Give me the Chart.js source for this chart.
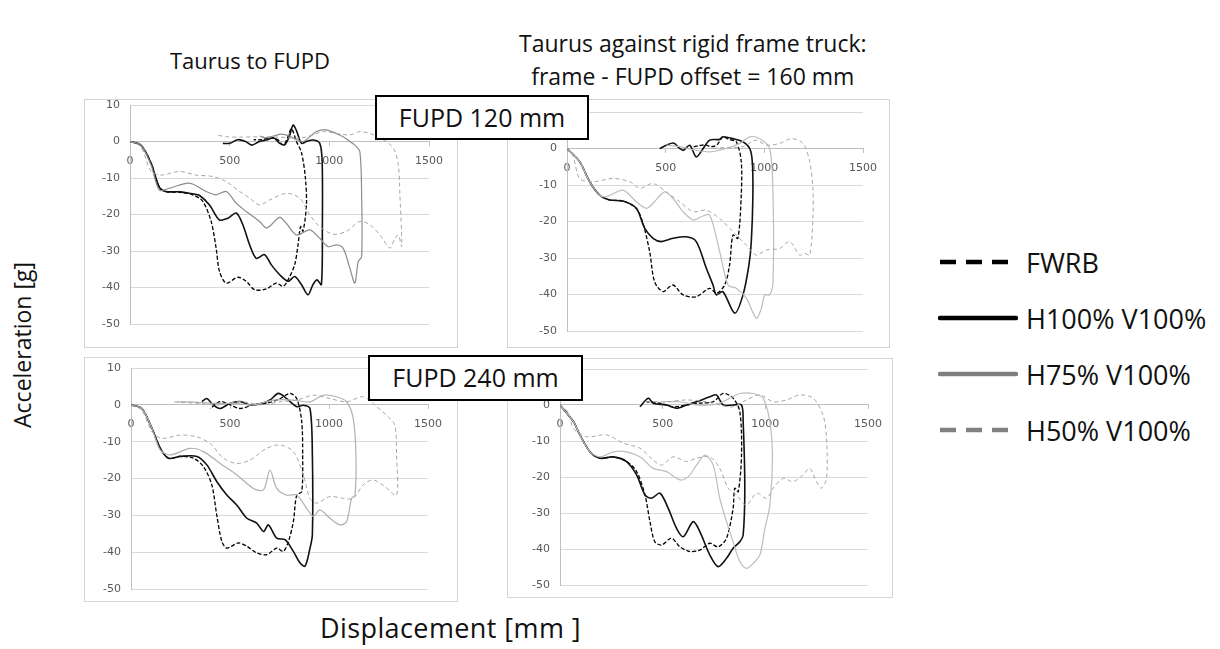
<!DOCTYPE html>
<html>
<head>
<meta charset="utf-8">
<script src="https://cdn.jsdelivr.net/npm/chart.js@4.4.1/dist/chart.umd.min.js"></script>
<style>
  body { margin: 0; background: #fff; width: 1220px; height: 649px; position: relative; overflow: hidden; font-family: "Open Sans", sans-serif; color: #111; }
  .panel { position: absolute; border: 1px solid #d4d4d4; box-sizing: border-box; background: #fff; }
  canvas { position: absolute; z-index: 2; }
  .txt { position: absolute; white-space: nowrap; }
  .tag { position: absolute; border: 2.5px solid #000; background: #fff; box-sizing: border-box; font-size: 25px; text-align: center; z-index: 5; }
  .legend { position: absolute; left: 938px; top: 234px; }
  .legend div { height: 56px; display: flex; align-items: center; font-size: 27px; }
  .legend svg { margin-right: 8px; }
</style>
</head>
<body>

<div class="txt" style="left:170px; top:45px; font-size:22px;">Taurus to FUPD</div>
<div class="txt" style="left:519px; top:27px; font-size:23px; line-height:33px; text-align:center;">Taurus against rigid frame truck:<br>frame - FUPD offset = 160 mm</div>

<div class="panel" style="left:84px; top:99px; width:374px; height:249px;"></div>
<div class="panel" style="left:507px; top:99px; width:383px; height:249px;"></div>
<div class="panel" style="left:84px; top:357px; width:374px; height:245px;"></div>
<div class="panel" style="left:507px; top:358px; width:386px; height:240px;"></div>

<canvas id="c1"></canvas>
<canvas id="c2"></canvas>
<canvas id="c3"></canvas>
<canvas id="c4"></canvas>

<div class="tag" style="left:375px; top:95px; width:214px; height:45px; line-height:40px;">FUPD 120 mm</div>
<div class="tag" style="left:368px; top:355px; width:215px; height:46px; line-height:41px;">FUPD 240 mm</div>

<div class="txt" style="left:-63px; top:329px; width:170px; font-size:23px; text-align:center; transform:rotate(-90deg);">Acceleration [g]</div>
<div class="txt" style="left:320px; top:609px; font-size:27px; letter-spacing:0.4px;">Displacement [mm ]</div>

<div class="legend">
  <div><svg width="80" height="8"><line x1="2" y1="4" x2="78" y2="4" stroke="#000" stroke-width="4.5" stroke-dasharray="16,10"/></svg>FWRB</div>
  <div><svg width="80" height="8"><line x1="2" y1="4" x2="78" y2="4" stroke="#000" stroke-width="4.5" stroke-linecap="round"/></svg>H100% V100%</div>
  <div><svg width="80" height="8"><line x1="2" y1="4" x2="78" y2="4" stroke="#7f7f7f" stroke-width="4.5" stroke-linecap="round"/></svg>H75% V100%</div>
  <div><svg width="80" height="8"><line x1="2" y1="4" x2="78" y2="4" stroke="#808080" stroke-width="4.5" stroke-dasharray="16,10"/></svg>H50% V100%</div>
</div>

<script>
var seriesNames = ["FWRB", "H100% V100%", "H75% V100%", "H50% V100%"];
var xTicks = [0, 500, 1000, 1500];
var yTicks = [10, 0, -10, -20, -30, -40, -50];

// top left: Taurus to FUPD, FUPD 120 mm
var tlFWRB = [[0,0],[55,-1],[106,-6],[147,-12.5],[180,-13.8],[248,-13.9],[315,-14.6],[365,-16.4],[407,-21.9],[432,-29.2],[449,-35.6],[483,-38.8],[541,-37.2],[583,-38.3],[625,-40.6],[684,-40.4],[734,-38.8],[768,-39.7],[793,-37.9],[826,-33.8],[843,-28.3],[856,-23.3],[868,-24.6],[885,-17.4],[880,-10],[860,-3],[835,0],[810,3.5],[790,1],[770,-1],[740,0.5],[700,1],[660,0.5],[620,0.5]];
var tlH100 = [[0,0],[55,-1],[106,-6],[147,-12.5],[180,-13.7],[250,-13.8],[320,-14.4],[349,-14.8],[399,-17.4],[449,-21.5],[491,-21],[533,-19.6],[566,-22.8],[600,-28.3],[633,-32],[675,-31],[709,-33.8],[751,-36.5],[793,-38.3],[826,-37],[860,-39.2],[893,-42],[918,-39.2],[938,-37.9],[960,-39.2],[965,-23.7],[964,-5.5],[952,-0.5],[918,0.4],[885,0],[860,-0.5],[835,3],[818,4.5],[800,1.5],[776,-0.9],[751,-0.5],[720,1],[690,0.5],[650,0],[610,-1],[580,0],[540,0.5],[500,-0.5],[466,-0.5]];
var tlH75 = [[0,0],[55,-1],[106,-6.5],[147,-13.3],[198,-12.8],[298,-11.4],[382,-13.7],[432,-14.6],[483,-13.7],[533,-16.9],[583,-19.2],[650,-21.9],[684,-23.7],[709,-22.8],[751,-20.8],[784,-22.4],[835,-25.6],[902,-24.2],[952,-26.5],[994,-28.8],[1036,-28.3],[1069,-29.2],[1103,-34.7],[1128,-38.8],[1145,-32.9],[1162,-31.5],[1162,-14.6],[1153,-2.8],[1128,-1],[1103,0],[1069,1.3],[985,3.2],[935,2.7],[902,1.3],[870,0],[835,0.5],[800,1.5],[760,2],[720,1.5],[680,1],[650,1.5]];
var tlH50 = [[0,0],[55,-1.5],[106,-8.2],[156,-9.2],[248,-8.2],[332,-9.2],[416,-9.6],[483,-11],[550,-13.7],[600,-15.5],[650,-17.4],[701,-16],[784,-14.2],[851,-15.5],[902,-20.1],[952,-23.3],[1019,-25.4],[1086,-24.6],[1153,-21.9],[1203,-22.8],[1254,-25.6],[1304,-29.2],[1329,-26.5],[1346,-25.6],[1363,-28.8],[1354,-14.6],[1346,-6.4],[1321,-1.8],[1270,0.5],[1203,2.2],[1153,2.7],[1103,1.8],[1036,2.2],[969,2.7],[918,1.8],[851,0.9],[750,1.2],[650,1.3],[550,1.2],[483,1.3],[432,1.8]];

// top right: rigid frame truck, FUPD 120 mm
var trFWRB = [[0,0],[64,-3.6],[115,-9.1],[166,-12.8],[216,-14.1],[284,-14.4],[351,-16.4],[385,-20.5],[419,-28.3],[444,-36.5],[486,-39.2],[537,-37.4],[588,-40.1],[655,-40.6],[723,-38.3],[757,-39.7],[799,-37.4],[824,-31.9],[841,-23.7],[866,-24.6],[883,-12.8],[883,-3.6],[858,1.8],[820,2.5],[790,3.2],[760,1],[730,0.5],[700,1],[670,0.8],[640,0.5]];
var trH100 = [[0,0],[64,-3.6],[115,-9.1],[166,-12.8],[216,-14.1],[284,-14.4],[351,-16.4],[394,-21.9],[436,-24.6],[478,-25.5],[537,-24.6],[605,-24.2],[655,-25.5],[706,-32.8],[740,-37.4],[757,-40.1],[790,-39.2],[850,-45.1],[892,-40.1],[922,-31.9],[934,-25.5],[942,-12.8],[939,-3.6],[926,0],[892,1.8],[841,2.7],[790,3.2],[774,2.5],[723,2.3],[690,0],[655,-2.3],[622,0.9],[590,-0.5],[571,0],[540,1.5],[504,0.9],[470,0]];
var trH75 = [[0,0],[64,-3.6],[115,-9.1],[166,-12.8],[199,-13.2],[284,-11.4],[351,-14.6],[402,-16.4],[436,-15],[495,-11.9],[537,-13.7],[588,-17.3],[639,-19.6],[681,-18.7],[723,-18.2],[774,-28.3],[816,-37.4],[858,-38.3],[909,-41],[959,-46.5],[985,-43.8],[1002,-40.1],[1027,-40.1],[1044,-36.5],[1044,-12.8],[1027,0],[976,2.7],[926,3.2],[875,1.4],[807,0],[723,-0.9],[655,-0.5],[571,0.5],[504,0.9]];
var trH50 = [[0,0],[30,-2],[64,-8.2],[132,-9.1],[233,-8.2],[318,-9.1],[368,-10.9],[436,-9.6],[503,-11.9],[571,-14.6],[639,-17.3],[706,-16.9],[774,-19.2],[841,-22.8],[909,-26.5],[959,-29.2],[1010,-27.8],[1078,-27.4],[1128,-25.5],[1179,-29.2],[1204,-28.7],[1230,-29.2],[1246,-19.2],[1246,-10.9],[1230,-3.6],[1196,1.4],[1137,2.7],[1078,1.4],[1010,0.9],[959,2.3],[892,0.5],[810,0.3],[740,0]];

// bottom left: Taurus to FUPD, FUPD 240 mm
var blFWRB = [[0,0],[55,-1],[106,-6.4],[148,-11.8],[190,-14.5],[249,-14],[316,-14.5],[366,-16.8],[408,-21.7],[433,-29.9],[459,-37.1],[484,-38.9],[543,-37.5],[585,-38.4],[635,-40.2],[685,-40.7],[736,-38.9],[769,-39.8],[795,-37.1],[820,-31.7],[837,-24.5],[862,-23.6],[867,-13.6],[862,-4.5],[837,1.7],[803,3.1],[753,1.7],[685,0.4],[618,0],[551,-1],[501,0],[450,0.9],[400,-1]];
var blH100 = [[0,0],[55,-1],[106,-6.4],[148,-11.8],[190,-14.5],[249,-14],[333,-14],[383,-16.3],[433,-20.8],[484,-24.5],[534,-27.2],[585,-30.8],[635,-32.1],[669,-34.4],[694,-32.6],[736,-36.2],[778,-36.6],[820,-39.8],[853,-42.9],[879,-43.8],[904,-38.9],[916,-35.3],[916,-13.6],[904,-1],[870,-0.1],[837,-0.5],[786,1.7],[744,3.1],[702,1.3],[660,0.4],[601,0],[551,0.9],[501,0.4],[450,-1],[417,-0.1],[383,1.7],[358,0.9]];
var blH75 = [[0,0],[55,-1],[106,-6.4],[148,-12.3],[198,-13.6],[299,-11.8],[366,-12.7],[450,-15.9],[534,-19],[618,-22.7],[669,-23.1],[702,-17.7],[736,-22.7],[786,-24.5],[837,-24.5],[887,-28.1],[921,-30.3],[954,-28.5],[1005,-30.8],[1055,-32.6],[1089,-31.7],[1114,-25.4],[1131,-24.5],[1136,-13.6],[1122,-3.6],[1089,0.8],[1038,2.2],[971,2.6],[904,0.8],[820,1.3],[719,1.3],[618,0],[517,0.4],[417,0.4],[299,0.8],[232,0.8]];
var blH50 = [[0,0],[55,-1.5],[106,-7.3],[156,-9.1],[249,-8.2],[333,-8.7],[400,-10.5],[467,-14.5],[534,-15.9],[601,-15],[685,-11.8],[753,-10.9],[820,-12.7],[870,-19],[904,-25.4],[937,-26.7],[1005,-24.9],[1072,-25.4],[1122,-25.4],[1173,-21.7],[1223,-20.4],[1282,-22.2],[1341,-24.5],[1341,-13.6],[1332,-5.5],[1290,-2.8],[1240,-0.5],[1173,2.2],[1089,0.8],[1005,1.7],[921,2.6],[837,1.3],[753,0.8],[652,0],[551,0.9],[450,0],[333,0.4],[215,0.8]];

// bottom right: rigid frame truck, FUPD 240 mm
var brFWRB = [[0,0],[65,-4.6],[97,-8.3],[146,-13],[195,-14.8],[260,-14.4],[324,-15.7],[373,-18.5],[414,-25],[438,-32.4],[462,-38],[495,-38.9],[543,-37],[584,-39.4],[633,-40.7],[681,-40.3],[730,-38.4],[770,-39.4],[811,-37],[843,-28.7],[851,-23.1],[868,-24.1],[884,-13.9],[876,-1.9],[843,1.9],[795,3.2],[746,0.9],[681,0.5],[616,0],[551,-0.5],[487,0.5],[422,0.9]];
var brH100 = [[0,0],[65,-4.6],[97,-8.3],[146,-13],[195,-14.8],[260,-14.4],[324,-15.7],[373,-19.4],[414,-25],[446,-25.9],[487,-24.5],[527,-28.7],[568,-34.3],[600,-36.6],[649,-32.4],[681,-35.2],[730,-41.7],[770,-44.9],[811,-42.6],[843,-39.8],[876,-38],[892,-36.1],[900,-23.1],[892,-4.6],[884,0],[843,0],[795,0],[762,2.8],[730,2.3],[665,0.9],[616,0],[568,-0.9],[519,0],[454,0.5],[430,1.9],[389,-0.5]];
var brH75 = [[0,0],[65,-4.6],[97,-8.3],[146,-13],[195,-14.4],[260,-13],[324,-13],[389,-14.4],[454,-17.6],[519,-18.5],[584,-20.8],[625,-19.9],[665,-16.7],[706,-13.9],[746,-16.7],[778,-25.9],[811,-32.4],[843,-38],[876,-43.5],[908,-45.4],[941,-44],[973,-41.7],[998,-34.3],[1022,-27.8],[1035,-13.9],[1022,-4.6],[989,1.9],[941,3.2],[876,3.2],[827,1.9],[778,0.5],[730,0],[665,0],[584,0.9],[503,0.9]];
var brH50 = [[0,0],[40,-2],[65,-6.5],[130,-8.8],[227,-8.3],[308,-10.6],[389,-12],[454,-15.3],[495,-16.7],[551,-14.4],[616,-15.7],[665,-14.8],[730,-14.4],[778,-17.6],[819,-23.1],[860,-25],[908,-27.8],[957,-24.5],[1006,-25.9],[1038,-23.1],[1087,-20.4],[1135,-21.3],[1184,-19.4],[1216,-17.6],[1249,-21.3],[1273,-23.1],[1298,-20.4],[1298,-9.3],[1281,-2.8],[1233,1.9],[1168,2.8],[1103,1.4],[1038,0.9],[973,2.8],[908,1.4],[843,-0.5],[778,0],[714,0.9],[616,1.4],[519,0.9],[422,0.9]];

function pts(a) {
  return a.map(function (p) { return {x: p[0], y: p[1]}; });
}

// padding round the plot box, wide enough that Chart.js adds nothing of its own
var padL = 50, padR = 30, padT = 20, padB = 24;

// plot box in page pixels: left, right, top (y=10), bottom (y=-50)
function makePanel(id, left, right, top, bottom, data, gray75) {
  var cv = document.getElementById(id);
  cv.width = right - left + padL + padR;
  cv.height = bottom - top + padT + padB;
  cv.style.left = (left - padL) + "px";
  cv.style.top = (top - padT) + "px";
  var styles = [
    {color: "#000000", width: 1.3, dash: [4, 2]},
    {color: "#111111", width: 1.6, dash: []},
    {color: gray75, width: 1.2, dash: []},
    {color: "#a6a6a6", width: 1.0, dash: [4, 3]}
  ];
  new Chart(cv, {
    type: "scatter",
    data: {
      datasets: data.map(function (d, i) {
        return {
          label: seriesNames[i],
          data: pts(d),
          showLine: true,
          borderColor: styles[i].color,
          borderWidth: styles[i].width,
          borderDash: styles[i].dash,
          pointRadius: 0,
          tension: 0.3,
          fill: false
        };
      }).reverse()
    },
    options: {
      responsive: false,
      animation: false,
      layout: {padding: {left: 0, right: padR, top: padT, bottom: padB}},
      plugins: {legend: {display: false}, tooltip: {enabled: false}},
      scales: {
        x: {
          type: "linear",
          position: {y: 0},
          min: 0, max: 1500,
          afterBuildTicks: function (s) { s.ticks = xTicks.map(function (v) { return {value: v}; }); },
          ticks: {color: "#595959", font: {family: "DejaVu Sans", size: 11}, padding: 9, maxRotation: 0, autoSkip: false,
                  callback: function (v) { return String(v); }},
          grid: {drawOnChartArea: false, drawTicks: true, tickLength: 4, color: "#bfbfbf"},
          border: {color: "#bfbfbf"}
        },
        y: {
          min: -50, max: 10,
          afterBuildTicks: function (s) { s.ticks = yTicks.map(function (v) { return {value: v}; }); },
          afterFit: function (s) { s.width = padL; },
          ticks: {color: "#595959", font: {family: "DejaVu Sans", size: 11}, padding: 10,
                  callback: function (v) { return String(v); }},
          grid: {color: "#d9d9d9", drawTicks: false},
          border: {color: "#bfbfbf"}
        }
      }
    }
  });
}

makePanel("c1", 130, 429, 105, 324, [tlFWRB, tlH100, tlH75, tlH50], "#8c8c8c");
makePanel("c2", 567, 863, 112, 331, [trFWRB, trH100, trH75, trH50], "#bdbdbd");
makePanel("c3", 131, 428, 368, 589, [blFWRB, blH100, blH75, blH50], "#b0b0b0");
makePanel("c4", 560, 868, 369, 585, [brFWRB, brH100, brH75, brH50], "#bdbdbd");
</script>
</body>
</html>
